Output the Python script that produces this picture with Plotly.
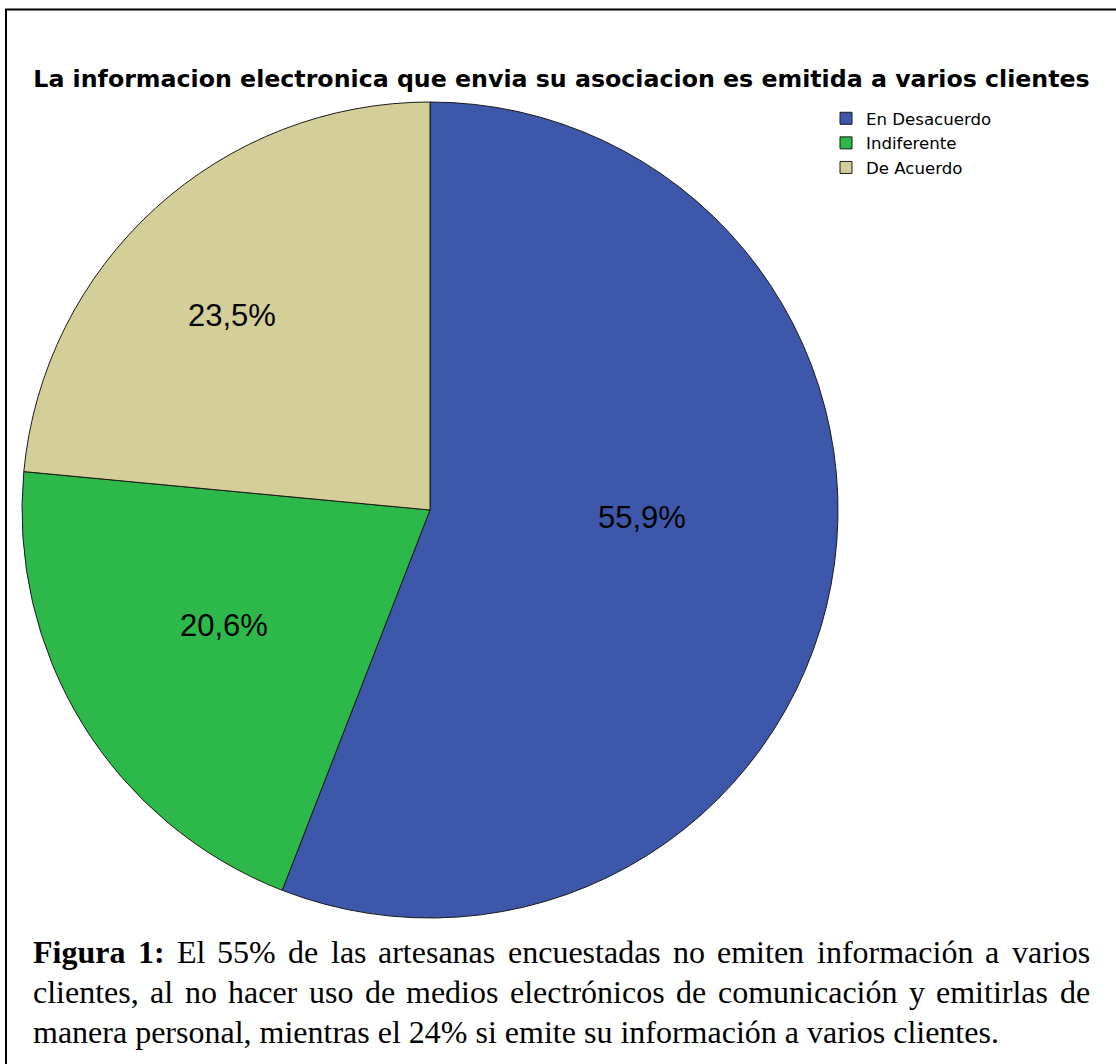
import math
import plotly.graph_objects as go

W, H = 1116, 1064

# ---- data ----
categories = ["En Desacuerdo", "Indiferente", "De Acuerdo"]
percentages = [55.9, 20.6, 23.5]
colors = ["#3d57ab", "#2db84a", "#d4ce98"]
title_text = "La informacion electronica que envia su asociacion es emitida a varios clientes"

caption_lines = [
    [("Figura", True), ("1:", True), ("El", False), ("55%", False), ("de", False), ("las", False),
     ("artesanas", False), ("encuestadas", False), ("no", False), ("emiten", False),
     ("información", False), ("a", False), ("varios", False)],
    [("clientes,", False), ("al", False), ("no", False), ("hacer", False), ("uso", False), ("de", False),
     ("medios", False), ("electrónicos", False), ("de", False), ("comunicación", False), ("y", False),
     ("emitirlas", False), ("de", False)],
    [("manera personal, mientras el 24% si emite su información a varios clientes.", False)],
]

# label placement style (radius fraction, angular nudge in degrees) per slice
label_rfrac = [0.52, 0.58, 0.68]
label_nudge = [-8.7, 2.4, -3.2]

# Times / Liberation Serif advance widths (units per 1000)
REG = {'a': 444, 'b': 500, 'c': 444, 'd': 500, 'e': 444, 'f': 333, 'g': 500, 'h': 500, 'i': 278,
       'j': 278, 'k': 500, 'l': 278, 'm': 778, 'n': 500, 'o': 500, 'p': 500, 'q': 500, 'r': 333,
       's': 389, 't': 278, 'u': 500, 'v': 500, 'w': 722, 'x': 500, 'y': 500, 'z': 444, ' ': 250,
       ',': 250, '.': 250, ':': 278, '%': 833, 'E': 611, 'F': 556, 'ó': 500, 'á': 444}
for d in "0123456789":
    REG[d] = 500
BOLD = {'F': 611, 'i': 278, 'g': 500, 'u': 556, 'r': 444, 'a': 500, ' ': 250, '1': 500, ':': 333}

CAP_SIZE = 32


def word_width(word, bold):
    table = BOLD if bold else REG
    return sum(table.get(ch, REG.get(ch, 500)) for ch in word) * CAP_SIZE / 1000.0


# pie geometry (pixels)
px0, px1 = 22, 838
py0, py1 = 102, 918
cx, cy = (px0 + px1) / 2, (py0 + py1) / 2
R = (px1 - px0) / 2

fig = go.Figure()
fig.add_trace(go.Pie(
    labels=categories,
    values=percentages,
    sort=False,
    direction="clockwise",
    rotation=0,
    marker=dict(colors=colors, line=dict(color="#1a1a1a", width=1)),
    textinfo="none",
    domain=dict(x=[px0 / W, px1 / W], y=[(H - py1) / H, (H - py0) / H]),
    hoverinfo="skip",
))

annotations = []

# slice percentage labels, computed from the data
total = sum(percentages)
cum = 0.0
for v, rf, nd in zip(percentages, label_rfrac, label_nudge):
    mid = (cum + v / 2) / total * 360.0 + nd
    cum += v
    a = math.radians(mid)
    lx = cx + rf * R * math.sin(a)
    ly = cy - rf * R * math.cos(a)
    annotations.append(dict(
        text=("%.1f%%" % (v / total * 100)).replace(".", ","),
        x=lx / W, y=1 - ly / H, xref="paper", yref="paper",
        xanchor="center", yanchor="middle", showarrow=False,
        font=dict(family="Liberation Sans", size=31, color="#000000"),
    ))

left_px, right_px = 33, 1090
baselines = [963, 1003, 1043]
for li, line in enumerate(caption_lines):
    yc = baselines[li] - 10.8
    widths = [word_width(w, b) for w, b in line]
    if li < 2:
        gap = (right_px - left_px - sum(widths)) / (len(line) - 1)
    else:
        gap = 0
    x = left_px
    for (w, b), wd in zip(line, widths):
        annotations.append(dict(
            text=("<b>%s</b>" % w) if b else w,
            x=x / W, y=1 - yc / H, xref="paper", yref="paper",
            xanchor="left", yanchor="middle", showarrow=False,
            borderpad=0, borderwidth=0,
            font=dict(family="Liberation Serif", size=CAP_SIZE, color="#000000"),
        ))
        x += wd + gap

fig.update_layout(
    width=W, height=H,
    margin=dict(l=0, r=0, t=0, b=0),
    paper_bgcolor="#ffffff",
    plot_bgcolor="#ffffff",
    title=dict(
        text="<b>%s</b>" % title_text,
        x=561.5 / W, xanchor="center",
        y=1 - 79 / H, yanchor="middle", yref="container",
        font=dict(family="DejaVu Sans", size=23.7, color="#000000"),
    ),
    legend=dict(
        x=826 / W, xanchor="left",
        y=1 - 101 / H, yanchor="top",
        font=dict(family="DejaVu Sans", size=16.6, color="#000000"),
        bgcolor="rgba(0,0,0,0)",
        traceorder="normal",
    ),
    annotations=annotations,
    shapes=[
        dict(type="line", xref="paper", yref="paper", x0=5 / W, x1=1, y0=1 - 9.5 / H, y1=1 - 9.5 / H,
             line=dict(color="#000000", width=2)),
        dict(type="line", xref="paper", yref="paper", x0=6 / W, x1=6 / W, y0=0, y1=1 - 9 / H,
             line=dict(color="#000000", width=2)),
    ],
)

fig.write_html("out.html")
